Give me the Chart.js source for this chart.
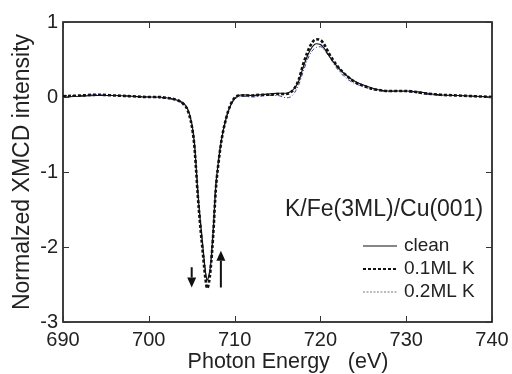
<!DOCTYPE html>
<html><head><meta charset="utf-8">
<script src="https://cdn.jsdelivr.net/npm/chart.js@4/dist/chart.umd.min.js"></script>
<style>html,body{margin:0;padding:0;background:#fff}#wrap{width:512px;height:374px}</style>
</head><body><div id="wrap"><canvas id="c" width="512" height="374"></canvas></div>
<script>
const energy = [690,692,694,696,698,700,701,702,703,703.5,704,704.5,705,705.3,705.5,705.7,706,706.3,706.6,706.8,707,707.2,707.5,707.8,708.1,708.5,709,709.5,710,710.5,711,712,713,714,715,716,716.5,717,717.5,718,718.5,719,719.5,720,720.5,721,722,723,724,725,726,727,728,729,730,731,732,733,734,736,738,740];
const clean = [0.0,0.01,0.02,0.02,0.01,0.0,0.0,-0.01,-0.03,-0.05,-0.08,-0.15,-0.35,-0.6,-0.9,-1.25,-1.65,-2.0,-2.33,-2.44,-2.38,-2.25,-1.8,-1.2,-0.88,-0.55,-0.29,-0.12,-0.02,0.02,0.03,0.02,0.03,0.04,0.05,0.05,0.07,0.12,0.22,0.4,0.55,0.66,0.71,0.7,0.64,0.55,0.4,0.29,0.21,0.16,0.12,0.09,0.08,0.08,0.08,0.07,0.06,0.04,0.03,0.02,0.01,0.0];
const k01 = [0.01,0.02,0.03,0.02,0.01,0.0,0.0,-0.01,-0.03,-0.05,-0.09,-0.17,-0.38,-0.64,-0.95,-1.3,-1.72,-2.08,-2.42,-2.55,-2.48,-2.3,-1.85,-1.25,-0.9,-0.56,-0.29,-0.11,-0.01,0.02,0.02,0.02,0.03,0.03,0.04,0.04,0.06,0.12,0.24,0.44,0.6,0.72,0.77,0.76,0.69,0.58,0.41,0.29,0.2,0.15,0.11,0.09,0.08,0.08,0.08,0.07,0.05,0.04,0.03,0.02,0.01,0.0];
const k02 = [0.02,0.02,0.03,0.02,0.01,0.0,-0.01,-0.02,-0.04,-0.06,-0.09,-0.16,-0.34,-0.57,-0.86,-1.2,-1.62,-1.98,-2.3,-2.45,-2.4,-2.2,-1.75,-1.18,-0.86,-0.54,-0.28,-0.12,-0.03,0.0,0.01,0.0,0.01,0.02,0.02,-0.01,0.0,0.06,0.17,0.34,0.5,0.61,0.66,0.67,0.62,0.54,0.37,0.25,0.18,0.14,0.1,0.08,0.07,0.08,0.07,0.06,0.04,0.03,0.02,0.02,0.01,0.0];
const xTicks = [690,700,710,720,730,740];
const yTicks = [-3,-2,-1,0,1];
const seriesNames = ['clean','0.1ML K','0.2ML K'];
const sampleLabel = 'K/Fe(3ML)/Cu(001)';
const xTitle = 'Photon Energy   (eV)';
const yTitle = 'Normalzed XMCD intensity';
// arrows: [x, yFrom, yTo] in data units
const arrows = [[705.0,-2.27,-2.54],[708.4,-2.54,-2.05]];

const pts = a => energy.map((x,i)=>({x:x,y:a[i]}));
const FONT = '"Liberation Sans", Arial, sans-serif';
const styles = [
  {color:'#111', width:1.2, dash:[]},
  {color:'#111', width:2.6, dash:[3,2]},
  {color:'#3a3f8f', width:1, dash:[4,2,1,2]}
];

const deco = {
  id:'deco',
  afterDraw(chart){
    const ctx = chart.ctx, a = chart.chartArea;
    const xs = chart.scales.x, ys = chart.scales.y;
    ctx.save();
    ctx.strokeStyle = '#111'; ctx.lineWidth = 1.6;
    ctx.strokeRect(a.left, a.top, a.right-a.left, a.bottom-a.top);
    ctx.lineWidth = 1;
    ctx.strokeStyle = '#333';
    xTicks.forEach(v=>{
      const p = Math.round(xs.getPixelForValue(v))+0.5;
      ctx.beginPath(); ctx.moveTo(p,a.bottom); ctx.lineTo(p,a.bottom-6);
      ctx.moveTo(p,a.top); ctx.lineTo(p,a.top+6); ctx.stroke();
    });
    yTicks.forEach(v=>{
      const p = Math.round(ys.getPixelForValue(v))+0.5;
      ctx.beginPath(); ctx.moveTo(a.left,p); ctx.lineTo(a.left+6,p);
      ctx.moveTo(a.right,p); ctx.lineTo(a.right-6,p); ctx.stroke();
    });
    ctx.fillStyle = '#111'; ctx.strokeStyle = '#111'; ctx.lineWidth = 2;
    arrows.forEach(([x,y0,y1])=>{
      const px = xs.getPixelForValue(x), p0 = ys.getPixelForValue(y0), p1 = ys.getPixelForValue(y1);
      const dir = p1>p0 ? 1 : -1;
      const head = 10;
      ctx.beginPath(); ctx.moveTo(px,p0); ctx.lineTo(px,p1-dir*head); ctx.stroke();
      ctx.beginPath(); ctx.moveTo(px,p1); ctx.lineTo(px-4.5,p1-dir*head); ctx.lineTo(px+4.5,p1-dir*head); ctx.closePath(); ctx.fill();
    });
    ctx.fillStyle = '#222';
    ctx.font = '21.5px '+FONT; ctx.textAlign='center'; ctx.textBaseline='middle';
    ctx.fillText(xTitle, 288, 362);
    ctx.save(); ctx.translate(23, (a.top+a.bottom)/2); ctx.rotate(-Math.PI/2);
    ctx.font = '23px '+FONT; ctx.fillText(yTitle, 0, 0); ctx.restore();
    ctx.font = '23px '+FONT; ctx.textAlign='left';
    ctx.fillText(sampleLabel, 285, 210);
    ctx.font = '19px '+FONT;
    const rows = [246,269,292];
    seriesNames.forEach((n,i)=>{
      const s = styles[i];
      ctx.beginPath(); ctx.setLineDash(i===2?[2,1.5]:s.dash); ctx.lineWidth = i===1?2:(i===2?1:1.2);
      ctx.strokeStyle = i===2?'#777':'#111';
      ctx.moveTo(363,rows[i]); ctx.lineTo(397,rows[i]); ctx.stroke();
      ctx.setLineDash([]);
      ctx.fillStyle='#222'; ctx.fillText(n, 404, rows[i]);
    });
    ctx.restore();
  }
};

new Chart(document.getElementById('c'), {
  type:'line',
  data:{datasets:[clean,k01,k02].map((d,i)=>({
    label:seriesNames[i], data:pts(d), borderColor:styles[i].color, borderWidth:styles[i].width,
    borderDash:styles[i].dash, pointRadius:0, fill:false, cubicInterpolationMode:'monotone'
  }))},
  options:{
    responsive:false, animation:false, devicePixelRatio:1,
    layout:{padding:{top:22,right:20,left:0,bottom:0}},
    plugins:{legend:{display:false}, tooltip:{enabled:false}},
    scales:{
      x:{type:'linear', min:690, max:740,
        afterFit(s){s.height=52; s.paddingLeft=0; s.paddingRight=0;},
        afterBuildTicks(s){s.ticks = xTicks.map(v=>({value:v}));},
        grid:{display:false, drawTicks:false}, border:{display:false},
        ticks:{font:{family:FONT,size:20}, color:'#222', padding:6, maxRotation:0}},
      y:{type:'linear', min:-3, max:1,
        afterFit(s){s.width=63; s.paddingTop=0; s.paddingBottom=0;},
        afterBuildTicks(s){s.ticks = yTicks.map(v=>({value:v}));},
        grid:{display:false, drawTicks:false}, border:{display:false},
        ticks:{font:{family:FONT,size:20}, color:'#222', padding:5}}
    }
  },
  plugins:[deco]
});
</script></body></html>
